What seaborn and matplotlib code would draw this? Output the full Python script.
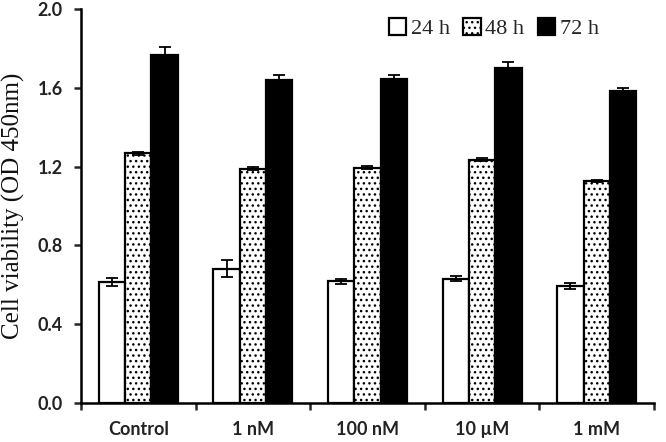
import matplotlib
matplotlib.use("Agg")
import matplotlib.pyplot as plt
from matplotlib.patches import Patch
from matplotlib.ticker import FixedLocator, FormatStrFormatter
import seaborn as sns
import pandas as pd

concentrations = ["Control", "1 nM", "100 nM", "10 µM", "1 mM"]
times = ["24 h", "48 h", "72 h"]
mean_24h = [0.615, 0.682, 0.618, 0.631, 0.594]
mean_48h = [1.267, 1.190, 1.195, 1.235, 1.129]
mean_72h = [1.766, 1.639, 1.647, 1.703, 1.585]
err_24h = [0.022, 0.044, 0.013, 0.013, 0.013]
err_48h = [0.006, 0.008, 0.008, 0.008, 0.005]
err_72h = [0.040, 0.025, 0.018, 0.030, 0.016]
y_ticks = [0.0, 0.4, 0.8, 1.2, 1.6, 2.0]

means = [mean_24h, mean_48h, mean_72h]
errs = [err_24h, err_48h, err_72h]
rows = []
for t, m in zip(times, means):
    for c, v in zip(concentrations, m):
        rows.append({"conc": c, "time": t, "value": v})
df = pd.DataFrame(rows)

sns.set_style("ticks")
plt.rcParams["hatch.linewidth"] = 1.0
plt.rcParams["font.family"] = ["Lato", "DejaVu Sans"]

fig = plt.figure(figsize=(6.66, 4.42), dpi=100)
ax = fig.add_axes([0.1216, 0.0882, 0.8604, 0.8914])

palette = {"24 h": "white", "48 h": "white", "72 h": "black"}
sns.barplot(data=df, x="conc", y="value", hue="time", order=concentrations,
            hue_order=times, palette=palette, edgecolor="black", linewidth=1.6,
            width=0.69, errorbar=None, legend=False, ax=ax, saturation=1)

bar_containers = list(ax.containers)
for i, cont in enumerate(bar_containers):
    xs, hs = [], []
    for p in cont.patches:
        if i == 1:
            p.set_hatch("...")
        xs.append(p.get_x() + p.get_width() / 2)
        hs.append(p.get_height())
    ax.errorbar(xs, hs, yerr=errs[i], fmt="none", ecolor="black",
                elinewidth=1.3, capsize=4, capthick=1.3, zorder=5)

ax.set_xlim(-0.5, 4.5)
ax.set_ylim(0, 2.0)
ax.yaxis.set_major_locator(FixedLocator(y_ticks))
ax.yaxis.set_major_formatter(FormatStrFormatter("%.1f"))
ax.xaxis.set_minor_locator(FixedLocator([-0.5, 0.5, 1.5, 2.5, 3.5, 4.5]))
ax.tick_params(axis="x", which="major", length=0, pad=13)
ax.tick_params(axis="x", which="minor", length=5, width=1.8, direction="out")
ax.tick_params(axis="y", which="major", length=5, width=1.8, direction="out", pad=8)
for lbl in ax.get_xticklabels() + ax.get_yticklabels():
    lbl.set_fontsize(13)
    lbl.set_fontweight("bold")
    lbl.set_color("#222222")

for s in ["top", "right"]:
    ax.spines[s].set_visible(False)
for s in ["left", "bottom"]:
    ax.spines[s].set_linewidth(1.8)
    ax.spines[s].set_color("black")

ax.set_xlabel("")
ax.set_ylabel("Cell viability (OD 450nm)", fontfamily="Liberation Serif",
              fontsize=18, color="#111111")
ax.yaxis.set_label_coords(-0.098, 0.5)

handles = [Patch(facecolor="white", edgecolor="black", linewidth=1.6),
           Patch(facecolor="white", edgecolor="black", linewidth=1.6, hatch="..."),
           Patch(facecolor="black", edgecolor="black", linewidth=1.6)]
fig.legend(handles, times, loc="upper left", bbox_to_anchor=(0.56, 0.995),
           ncol=3, frameon=False, handlelength=0.8, handleheight=0.8,
           handletextpad=0.2, columnspacing=0.6, borderpad=0.2,
           prop={"family": "Liberation Serif", "size": 16})

fig.savefig("out.png", dpi=100)
